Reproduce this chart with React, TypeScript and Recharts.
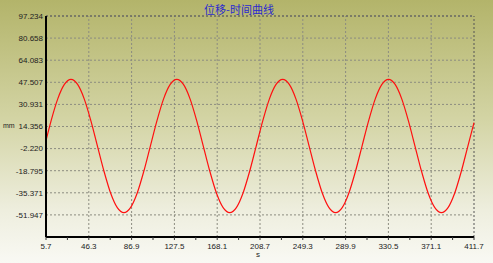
import { CartesianGrid, Line, LineChart, ReferenceLine, XAxis, YAxis } from "recharts";

// values (displacement vs time)
const timeS = [
  5.7, 10.58, 16.85, 23.13, 29.4, 35.68, 41.95, 48.23, 54.5, 60.78, 67.05, 73.33, 79.6, 85.88,
  92.15, 98.43, 104.7, 110.98, 117.25, 123.53, 129.8, 136.08, 142.35, 148.63, 154.9, 161.18,
  167.45, 173.73, 180.0, 186.28, 192.55, 198.83, 205.1, 211.38, 217.65, 223.93, 230.2, 236.48,
  242.75, 249.03, 255.3, 261.58, 267.85, 274.13, 280.4, 286.68, 292.95, 299.23, 305.5, 311.78,
  318.05, 324.33, 330.6, 336.88, 343.15, 349.43, 355.7, 361.98, 368.25, 374.53, 380.8, 387.08,
  393.35, 399.63, 405.9, 411.7,
];

const displacementMm = [
  3.8, 18.8, 35.1, 45.9, 49.7, 45.9, 35.1, 18.8, -0.3, -19.4, -35.7, -46.5, -50.3, -46.5,
  -35.7, -19.4, -0.3, 18.8, 35.1, 45.9, 49.7, 45.9, 35.1, 18.8, -0.3, -19.4,
  -35.7, -46.5, -50.3, -46.5, -35.7, -19.4, -0.3, 18.8, 35.1, 45.9, 49.7, 45.9,
  35.1, 18.8, -0.3, -19.4, -35.7, -46.5, -50.3, -46.5, -35.7, -19.4, -0.3, 18.8,
  35.1, 45.9, 49.7, 45.9, 35.1, 18.8, -0.3, -19.4, -35.7, -46.5, -50.3, -46.5,
  -35.7, -19.4, -0.3, 17.2,
];

const xTicks = [5.7, 46.3, 86.9, 127.5, 168.1, 208.7, 249.3, 289.9, 330.5, 371.1, 411.7];
const xMinorTicks = [26.0, 66.6, 107.2, 147.8, 188.4, 229.0, 269.6, 310.2, 350.8, 391.4];
const yTicks = [-51.947, -35.371, -18.795, -2.22, 14.356, 30.931, 47.507, 64.083, 80.658, 97.234];
const yDomain: [number, number] = [-68.523, 97.234];

const data = timeS.map((t, i) => ({ t, mm: displacementMm[i] }));
const allXTicks = [...xTicks, ...xMinorTicks].sort((a, b) => a - b);

const FONT = "'Liberation Sans', Arial, sans-serif";
const GRID = "#8c8c80";

function XTick(props: any) {
  const { x, y, payload } = props;
  if (!xTicks.includes(payload.value)) return null;
  return (
    <text x={x} y={y} dy={7} textAnchor="middle" fontSize={8} fill="#222" fontFamily={FONT}>
      {payload.value.toFixed(1)}
    </text>
  );
}

export default function App() {
  return (
    <div
      style={{
        position: "absolute",
        left: 0,
        top: 0,
        width: 493,
        height: 263,
        background: "linear-gradient(to bottom, #b3b46a 0%, #d3d4a4 45%, #eeeede 80%, #f9f9f4 100%)",
        fontFamily: FONT,
      }}
    >
      <div
        style={{
          position: "absolute",
          left: 0,
          width: 478,
          top: 1,
          textAlign: "center",
          fontSize: 11,
          color: "#2a2ad0",
          fontFamily: "'Noto Sans CJK SC', sans-serif",
        }}
      >
        位移-时间曲线
      </div>
      <div style={{ position: "absolute", left: 3, top: 122, fontSize: 7, color: "#222" }}>mm</div>
      <div style={{ position: "absolute", left: 256, top: 250, fontSize: 8, color: "#222" }}>s</div>
      <LineChart width={493} height={263} data={data} margin={{ top: 16, right: 19, bottom: 0, left: 0 }}>
        <CartesianGrid vertical={false} stroke={GRID} strokeDasharray="2 2" />
        <XAxis
          dataKey="t"
          type="number"
          domain={[5.7, 411.7]}
          ticks={allXTicks}
          interval={0}
          height={26}
          axisLine={{ stroke: "#000", strokeWidth: 2 }}
          tickLine={{ stroke: "#333" }}
          tickSize={3}
          tick={<XTick />}
        />
        <YAxis
          type="number"
          domain={yDomain}
          ticks={yTicks}
          interval={0}
          width={46}
          axisLine={{ stroke: "#000", strokeWidth: 2 }}
          tickLine={false}
          tickSize={0}
          tickMargin={3}
          tick={{ fontSize: 8, fill: "#222", fontFamily: FONT }}
          tickFormatter={(v: number) => v.toFixed(3)}
        />
        {xTicks.slice(1, -1).map((t) => (
          <ReferenceLine key={t} x={t} stroke={GRID} strokeDasharray="2 2" />
        ))}
        <ReferenceLine x={411.7} stroke="#555" strokeDasharray="2 2" />
        <ReferenceLine y={97.234} stroke="#555" strokeDasharray="2 2" />
        <Line
          type="monotone"
          dataKey="mm"
          stroke="#ff1010"
          strokeWidth={1.2}
          dot={false}
          isAnimationActive={false}
        />
      </LineChart>
    </div>
  );
}
